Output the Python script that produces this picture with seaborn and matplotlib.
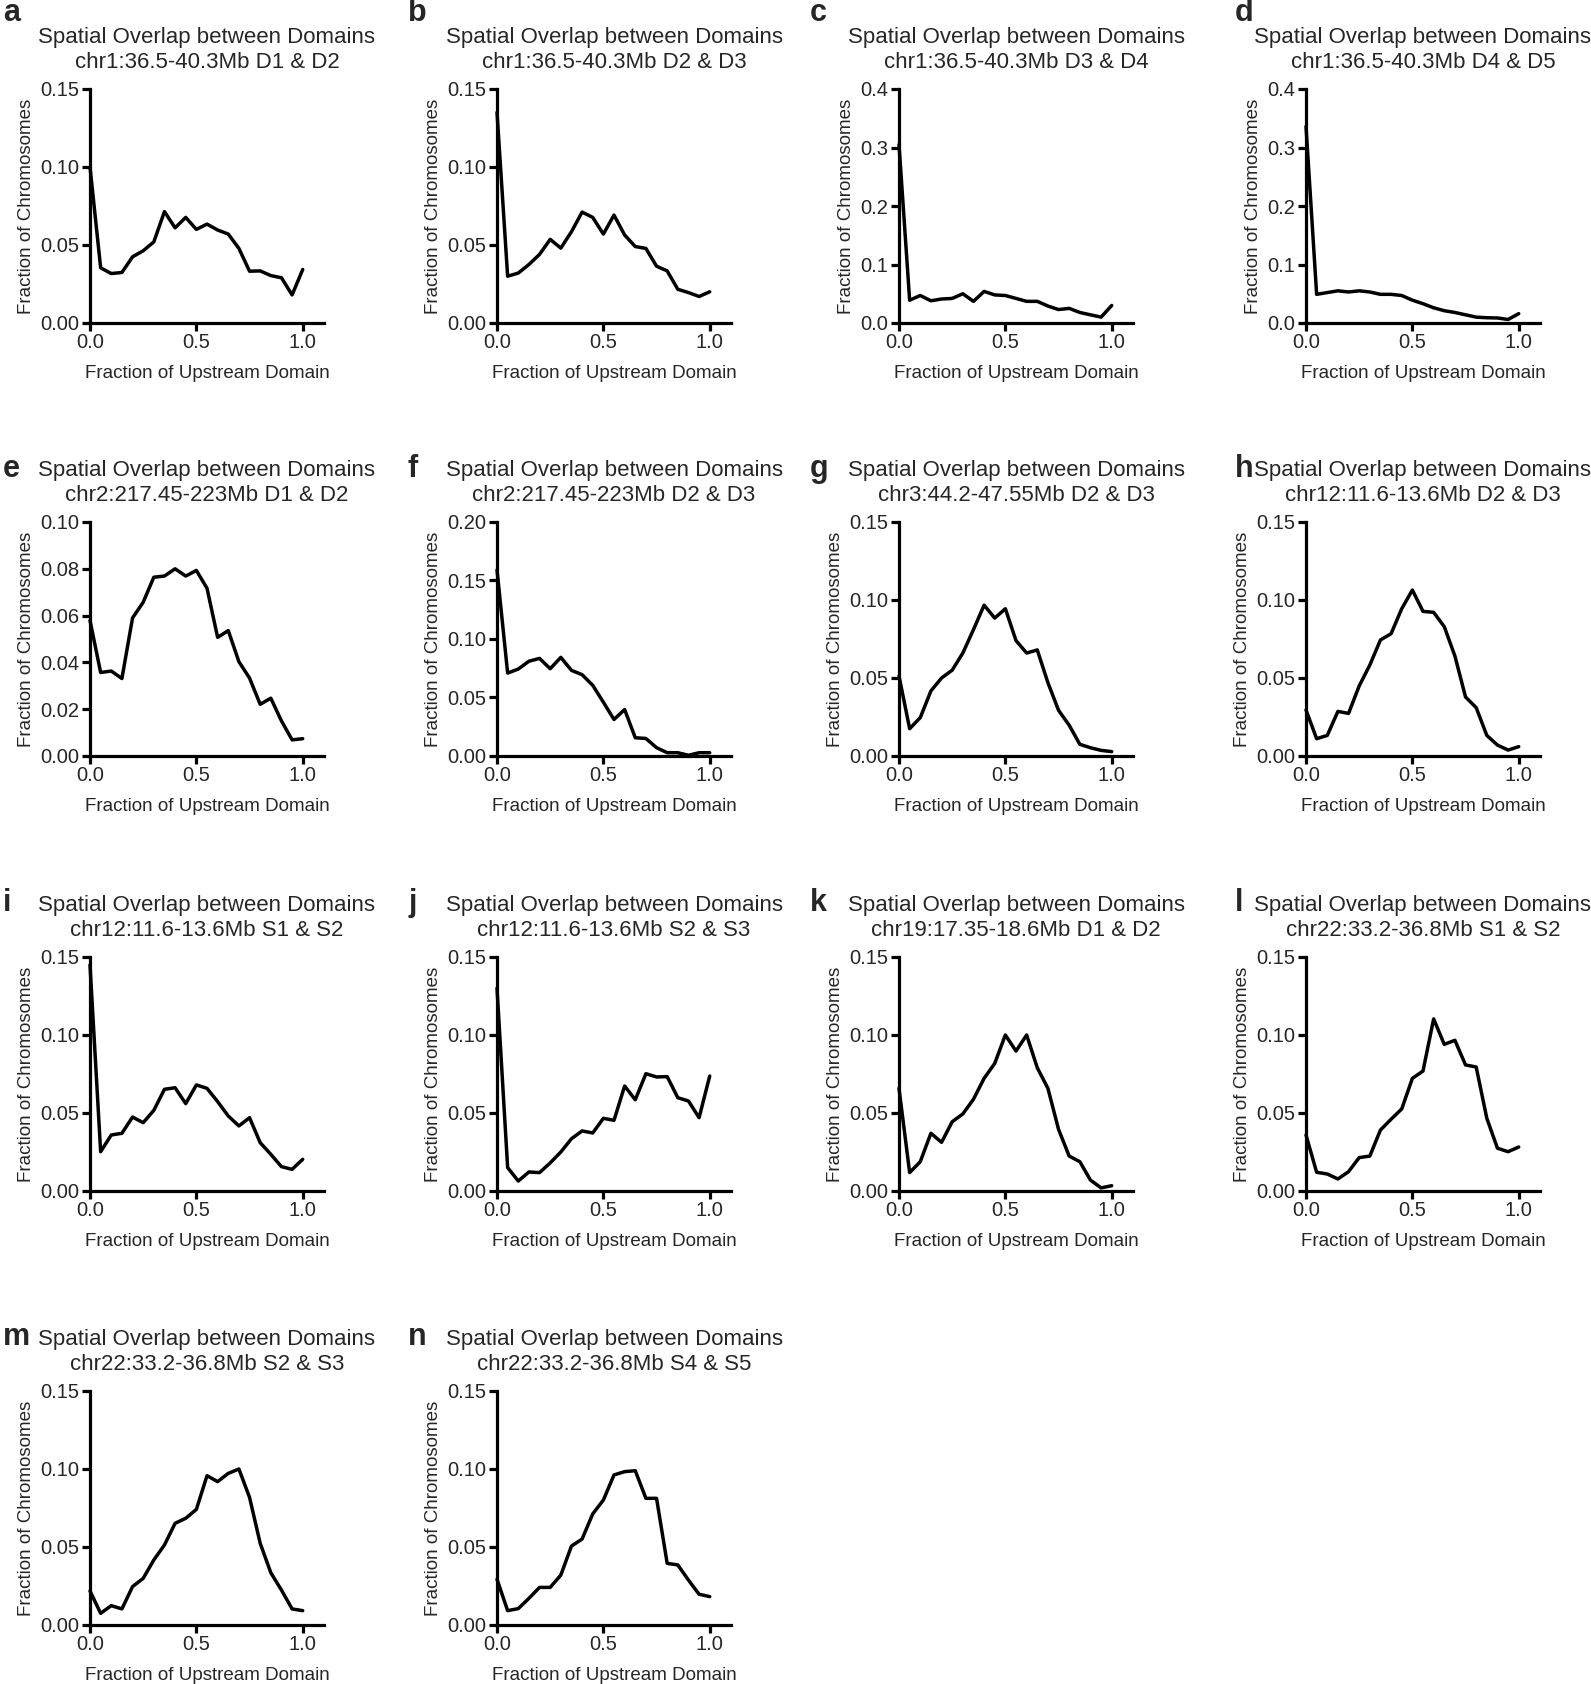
import numpy as np
import pandas as pd
import matplotlib
matplotlib.use("Agg")
import matplotlib.pyplot as plt
import seaborn as sns
from matplotlib.ticker import FormatStrFormatter

x_frac = [0.0, 0.05, 0.10, 0.15, 0.20, 0.25, 0.30, 0.35, 0.40, 0.45, 0.50,
          0.55, 0.60, 0.65, 0.70, 0.75, 0.80, 0.85, 0.90, 0.95, 1.0]

a_vals = [0.100, 0.0354, 0.0317, 0.0324, 0.0424, 0.0463, 0.052, 0.0714, 0.061, 0.0677, 0.060,
          0.0634, 0.0596, 0.057, 0.0478, 0.0332, 0.0334, 0.0304, 0.029, 0.018, 0.0343]
b_vals = [0.135, 0.030, 0.032, 0.0375, 0.044, 0.0536, 0.048, 0.0585, 0.0711, 0.0677, 0.057,
          0.0692, 0.0564, 0.049, 0.0478, 0.0364, 0.0334, 0.0216, 0.0195, 0.017, 0.020]
c_vals = [0.305, 0.039, 0.047, 0.038, 0.041, 0.042, 0.050, 0.037, 0.054, 0.048, 0.047,
          0.042, 0.037, 0.037, 0.029, 0.023, 0.025, 0.018, 0.014, 0.010, 0.030]
d_vals = [0.336, 0.049, 0.052, 0.055, 0.053, 0.055, 0.053, 0.049, 0.049, 0.047, 0.039,
          0.033, 0.026, 0.021, 0.018, 0.014, 0.010, 0.009, 0.0086, 0.006, 0.016]
e_vals = [0.0579, 0.0357, 0.0363, 0.0331, 0.059, 0.0657, 0.0764, 0.0769, 0.080, 0.0769, 0.0793,
          0.0717, 0.0507, 0.0536, 0.0403, 0.0333, 0.0221, 0.0247, 0.015, 0.0069, 0.0074]
f_vals = [0.159, 0.0709, 0.0743, 0.081, 0.0834, 0.0746, 0.0843, 0.0732, 0.0695, 0.0604, 0.046,
          0.0312, 0.0397, 0.0156, 0.015, 0.0071, 0.0028, 0.0028, 0.0006, 0.0028, 0.0028]
g_vals = [0.0513, 0.0175, 0.0246, 0.0417, 0.050, 0.055, 0.066, 0.081, 0.0967, 0.0884, 0.0944,
          0.074, 0.066, 0.068, 0.047, 0.0293, 0.0197, 0.0075, 0.0053, 0.0036, 0.0028]
h_vals = [0.0295, 0.0111, 0.0132, 0.0286, 0.0273, 0.0449, 0.0583, 0.0744, 0.0784, 0.0944, 0.1064,
          0.0927, 0.0921, 0.0829, 0.0641, 0.0378, 0.031, 0.0132, 0.007, 0.0038, 0.006]
i_vals = [0.1449, 0.0252, 0.0359, 0.037, 0.0474, 0.0438, 0.0517, 0.0652, 0.0662, 0.056, 0.068,
          0.0658, 0.0573, 0.0481, 0.0417, 0.047, 0.031, 0.0235, 0.0156, 0.0139, 0.0203]
j_vals = [0.130, 0.015, 0.0064, 0.0122, 0.0118, 0.018, 0.025, 0.0335, 0.0385, 0.0372, 0.0466,
          0.0453, 0.0673, 0.0585, 0.0752, 0.0731, 0.0733, 0.0598, 0.0577, 0.047, 0.0737]
k_vals = [0.0658, 0.0118, 0.0188, 0.037, 0.0312, 0.0444, 0.0494, 0.0588, 0.0722, 0.0818, 0.100,
          0.0897, 0.100, 0.079, 0.0658, 0.0395, 0.0224, 0.0188, 0.007, 0.002, 0.0034]
l_vals = [0.0359, 0.012, 0.0109, 0.0077, 0.0124, 0.0214, 0.0224, 0.0391, 0.046, 0.0526, 0.0722,
          0.0769, 0.1103, 0.094, 0.0966, 0.0808, 0.0795, 0.0466, 0.0274, 0.0252, 0.0282]
m_vals = [0.0218, 0.0075, 0.0124, 0.0103, 0.0246, 0.0299, 0.0417, 0.0513, 0.0652, 0.0684, 0.0741,
          0.0957, 0.0919, 0.0972, 0.100, 0.0818, 0.0524, 0.0335, 0.0224, 0.0103, 0.0092]
n_vals = [0.0293, 0.0092, 0.0105, 0.0171, 0.0241, 0.0241, 0.032, 0.0506, 0.0551, 0.0712, 0.0801,
          0.0962, 0.0983, 0.0989, 0.0812, 0.0812, 0.0395, 0.0385, 0.0288, 0.0197, 0.0182]

panel_letters = ["a", "b", "c", "d", "e", "f", "g", "h", "i", "j", "k", "l", "m", "n"]
panel_regions = ["chr1:36.5-40.3Mb D1 & D2", "chr1:36.5-40.3Mb D2 & D3",
                 "chr1:36.5-40.3Mb D3 & D4", "chr1:36.5-40.3Mb D4 & D5",
                 "chr2:217.45-223Mb D1 & D2", "chr2:217.45-223Mb D2 & D3",
                 "chr3:44.2-47.55Mb D2 & D3", "chr12:11.6-13.6Mb D2 & D3",
                 "chr12:11.6-13.6Mb S1 & S2", "chr12:11.6-13.6Mb S2 & S3",
                 "chr19:17.35-18.6Mb D1 & D2", "chr22:33.2-36.8Mb S1 & S2",
                 "chr22:33.2-36.8Mb S2 & S3", "chr22:33.2-36.8Mb S4 & S5"]
panel_values = [a_vals, b_vals, c_vals, d_vals, e_vals, f_vals, g_vals, h_vals,
                i_vals, j_vals, k_vals, l_vals, m_vals, n_vals]
y_tick_sets = [[0, 0.05, 0.10, 0.15], [0, 0.05, 0.10, 0.15],
               [0, 0.1, 0.2, 0.3, 0.4], [0, 0.1, 0.2, 0.3, 0.4],
               [0, 0.02, 0.04, 0.06, 0.08, 0.10], [0, 0.05, 0.10, 0.15, 0.20],
               [0, 0.05, 0.10, 0.15], [0, 0.05, 0.10, 0.15],
               [0, 0.05, 0.10, 0.15], [0, 0.05, 0.10, 0.15],
               [0, 0.05, 0.10, 0.15], [0, 0.05, 0.10, 0.15],
               [0, 0.05, 0.10, 0.15], [0, 0.05, 0.10, 0.15]]
y_formats = ["%.2f", "%.2f", "%.1f", "%.1f", "%.2f", "%.2f", "%.2f", "%.2f",
             "%.2f", "%.2f", "%.2f", "%.2f", "%.2f", "%.2f"]
x_ticks = [0.0, 0.5, 1.0]

sns.set_theme(style="ticks")
plt.rcParams['font.family'] = ['Liberation Sans', 'DejaVu Sans']

W, H = 1591, 1684
fig = plt.figure(figsize=(W / 100, H / 100), dpi=100)

col_left = [90, 497, 899, 1306]
row_top = [89, 522, 957, 1391]
letter_x = [3, 408, 810, 1235]
letter_row_y = [13, 469, 903, 1337]
ax_w, ax_h = 234, 234

for idx, (letter, region, vals) in enumerate(zip(panel_letters, panel_regions, panel_values)):
    r, c = divmod(idx, 4)
    left = col_left[c]
    top = row_top[r]
    ax = fig.add_axes([left / W, 1 - (top + ax_h) / H, ax_w / W, ax_h / H])
    df = pd.DataFrame({"x": x_frac, "y": vals})
    sns.lineplot(data=df, x="x", y="y", ax=ax, color="black", linewidth=2.5)
    ax.set_xlim(0, 1.1)
    yt = y_tick_sets[idx]
    ax.set_ylim(0, yt[-1])
    ax.set_yticks(yt)
    ax.set_xticks(x_ticks)
    ax.yaxis.set_major_formatter(FormatStrFormatter(y_formats[idx]))
    ax.xaxis.set_major_formatter(FormatStrFormatter("%.1f"))
    ax.tick_params(axis="both", which="major", labelsize=14.5, width=2.3,
                   length=6, direction="out", color="black", pad=1.5)
    for s in ["left", "bottom"]:
        ax.spines[s].set_linewidth(2.3)
        ax.spines[s].set_color("black")
    sns.despine(ax=ax)
    ax.set_xlabel("Fraction of Upstream Domain", fontsize=13.5, labelpad=9)
    ax.set_ylabel("Fraction of Chromosomes", fontsize=13.5, labelpad=4)
    ax.set_title("Spatial Overlap between Domains\n" + region, fontsize=16,
                 pad=15, linespacing=1.28)
    for line in ax.lines:
        line.set_clip_on(False)
    fig.text(letter_x[c] / W, 1 - letter_row_y[r] / H, letter, fontsize=22,
             fontweight="bold", ha="left", va="center")

fig.savefig("out.png", dpi=100)
